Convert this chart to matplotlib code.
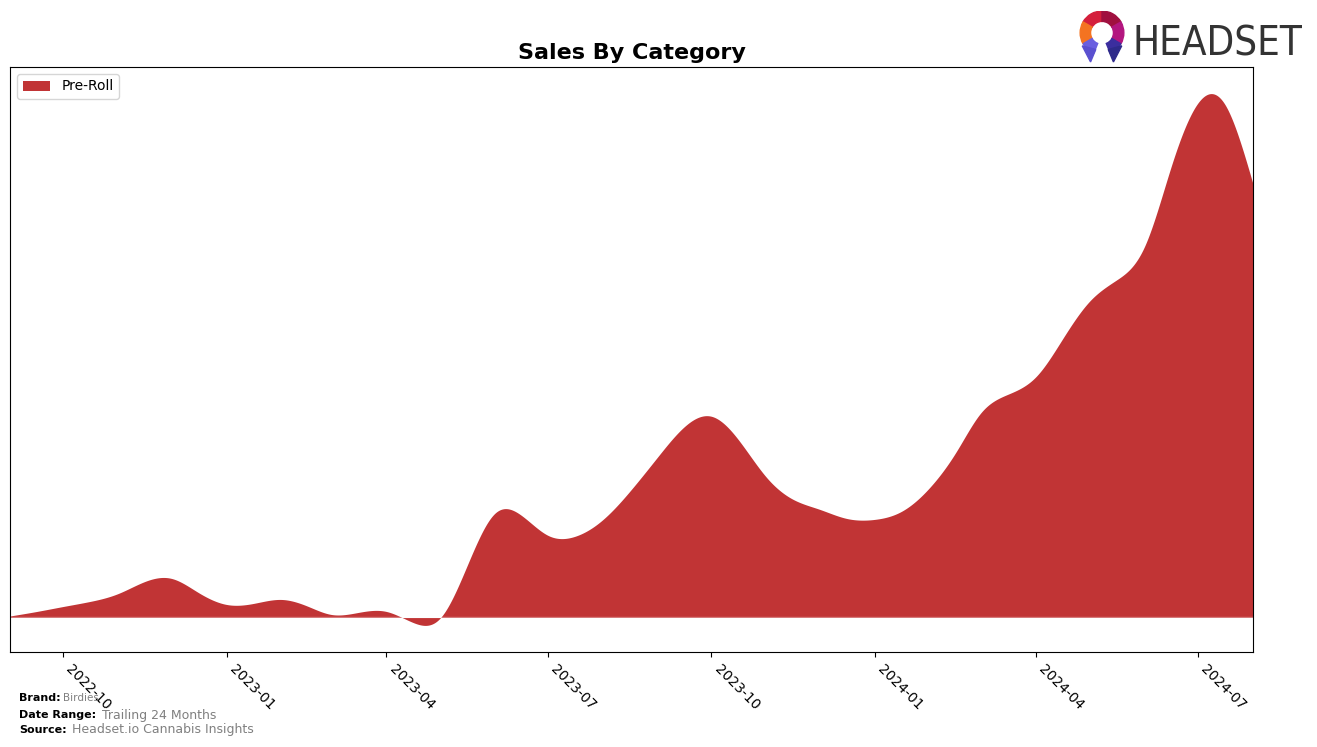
import matplotlib
matplotlib.use("agg")
import matplotlib.pyplot as plt
import matplotlib.dates as mdates
from matplotlib import font_manager
from matplotlib.patches import Wedge, Polygon
import numpy as np
import pandas as pd

# half-month sample points (Sep 2022 .. Aug 2024)
month_starts = pd.date_range("2022-09-01", "2024-08-01", freq="MS")
dates = sorted(list(month_starts) + [d + pd.Timedelta(days=15) for d in month_starts[:-1]])
preroll_sales = [
    1.5, 6, 11, 16, 24, 36, 39, 25,          # 2022-09 .. 2022-12
    13, 14, 18, 11, 3, 5, 6, -5,             # 2023-01 .. 2023-04
    -1, 50, 104, 102, 82, 81, 98, 126,       # 2023-05 .. 2023-08
    161, 191, 201, 178, 140, 118, 108, 99,   # 2023-09 .. 2023-12
    98, 106, 130, 166, 205, 223, 241, 279,   # 2024-01 .. 2024-04
    316, 337, 371, 451, 514, 513, 433,       # 2024-05 .. 2024-08
]
category = "Pre-Roll"
fill_color = "#c13435"


def natural_spline(x, y, xs):
    # plain natural cubic spline, just for a smooth outline
    n = len(x)
    h = np.diff(x)
    A = np.zeros((n, n))
    b = np.zeros(n)
    A[0, 0] = A[-1, -1] = 1
    for i in range(1, n - 1):
        A[i, i - 1] = h[i - 1]
        A[i, i] = 2 * (h[i - 1] + h[i])
        A[i, i + 1] = h[i]
        b[i] = 6 * ((y[i + 1] - y[i]) / h[i] - (y[i] - y[i - 1]) / h[i - 1])
    M = np.linalg.solve(A, b)
    i = np.clip(np.searchsorted(x, xs) - 1, 0, n - 2)
    hi = h[i]
    return (M[i] * (x[i + 1] - xs) ** 3 / (6 * hi)
            + M[i + 1] * (xs - x[i]) ** 3 / (6 * hi)
            + (y[i] / hi - M[i] * hi / 6) * (x[i + 1] - xs)
            + (y[i + 1] / hi - M[i + 1] * hi / 6) * (xs - x[i]))


xnum = mdates.date2num(dates)
yv = np.array(preroll_sales, dtype=float)
xs = np.linspace(xnum[0], xnum[-1], 1500)
ys = natural_spline(xnum, yv, xs)

fig = plt.figure(figsize=(13.17, 7.47), dpi=100)
ax = fig.add_axes([10 / 1317, 1 - 652 / 747, 1243 / 1317, 585 / 747])

ax.fill_between(mdates.num2date(xs), ys, 0, color=fill_color, linewidth=0, label=category)
ax.axhline(0, color="white", linewidth=1, alpha=0.35)
ax.set_xlim(mdates.num2date(xnum[0]), mdates.num2date(xnum[-1]))
ax.set_yticks([])
ax.xaxis.set_major_locator(mdates.MonthLocator(bymonth=[1, 4, 7, 10]))
ax.xaxis.set_major_formatter(mdates.DateFormatter("%Y-%m"))
plt.setp(ax.get_xticklabels(), rotation=-45, ha="left", fontsize=10)
ax.set_title("Sales By Category", fontsize=16, fontweight="bold")
ax.legend(loc="upper left", fontsize=10)

# logo, roughly
lax = fig.add_axes([1076 / 1317, 1 - 63 / 747, 52 / 1317, 52 / 747])
lax.set_xlim(0, 1)
lax.set_ylim(0, 1)
lax.axis("off")
segs = [(90, 150, "#d41f3c"), (30, 90, "#a0103f"), (150, 210, "#f47321"),
        (-30, 30, "#b3167f"), (210, 248, "#6a5fe0"), (292, 330, "#3b2e9e")]
for a0, a1, col in segs:
    lax.add_patch(Wedge((0.5, 0.58), 0.42, a0, a1, width=0.2, color=col))
lax.add_patch(Polygon([[0.12, 0.33], [0.38, 0.26], [0.28, 0.02]], color="#5a50d0"))
lax.add_patch(Polygon([[0.88, 0.33], [0.62, 0.26], [0.72, 0.02]], color="#2e2a8a"))

# pick a narrow face if one is installed
logo_family = "DejaVu Sans"
logo_stretch = "normal"
for fam, st in [("DejaVu Sans", "condensed"), ("Liberation Sans Narrow", "normal"),
                ("Roboto", "condensed"), ("Open Sans", "condensed")]:
    try:
        fp = font_manager.FontProperties(family=fam, stretch=st)
        path = font_manager.findfont(fp, fallback_to_default=False)
        if st == "normal" or "ondensed" in path or "arrow" in path:
            logo_family, logo_stretch = fam, st
            break
    except Exception:
        pass

logo = fig.text(1133 / 1317, 1 - 56 / 747, "HEADSET", fontsize=37, color="#333333",
                family=logo_family, stretch=logo_stretch, ha="left", va="baseline")
# squeeze the font size so the word fits the same width as in the reference
fig.canvas.draw()
w = logo.get_window_extent().width
if w > 170:
    logo.set_fontsize(37 * 170 / w)

# footer
fig.text(19 / 1317, 1 - 698 / 747, "Brand:", fontsize=8, fontweight="bold", va="center")
fig.text(63 / 1317, 1 - 698 / 747, "Birdies", fontsize=7.5, color="gray", va="center")
fig.text(19 / 1317, 1 - 715 / 747, "Date Range:", fontsize=8, fontweight="bold", va="center")
fig.text(102 / 1317, 1 - 715 / 747, "Trailing 24 Months", fontsize=9, color="gray", va="center")
fig.text(19 / 1317, 1 - 730 / 747, "Source:", fontsize=8, fontweight="bold", va="center")
fig.text(72 / 1317, 1 - 730 / 747, "Headset.io Cannabis Insights", fontsize=9, color="gray", va="center")

fig.savefig("out.png", dpi=100)
